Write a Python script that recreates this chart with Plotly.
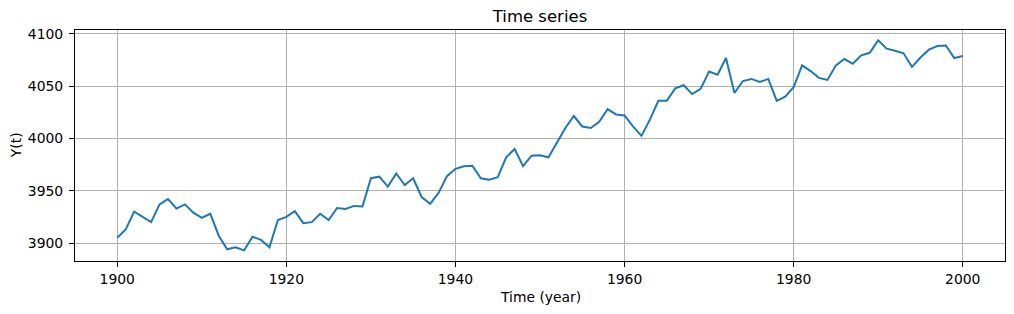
import plotly.graph_objects as go

years = list(range(1900, 2001))
values = [
    3905, 3913, 3930, 3925, 3920, 3937, 3942, 3933, 3937, 3929,
    3924, 3928, 3907, 3894, 3896, 3893, 3906, 3903, 3896, 3922,
    3925, 3930.5, 3919, 3920, 3928, 3922, 3933.5, 3932.5, 3935.5, 3935,
    3962, 3963.5, 3954, 3966.5, 3955.5, 3962, 3944, 3937.5, 3948, 3964,
    3971, 3973.5, 3974, 3962, 3960.5, 3963, 3982, 3990, 3973.5, 3983.5,
    3984, 3982, 3995.5, 4010, 4021.5, 4011.5, 4010, 4016, 4028, 4023,
    4022, 4011.5, 4002.5, 4018, 4036, 4036, 4048, 4051, 4042.5, 4047.5,
    4064, 4061, 4077, 4043.5, 4055, 4057, 4054, 4057, 4036, 4040,
    4049, 4070, 4064.5, 4058, 4056, 4070, 4076, 4071.5, 4079.5, 4082,
    4094, 4086, 4084, 4081.5, 4068.5, 4077.5, 4085, 4088.5, 4089, 4077,
    4079,
]
x_ticks = [1900, 1920, 1940, 1960, 1980, 2000]
y_ticks = [3900, 3950, 4000, 4050, 4100]

font_family = "DejaVu Sans"
fs = 13.9

fig = go.Figure()
fig.add_trace(go.Scatter(
    x=years, y=values, mode="lines",
    line=dict(color="#1f77b4", width=2),
    showlegend=False,
))

axis_common = dict(
    showline=True, linecolor="black", linewidth=1, mirror=True,
    ticks="outside", ticklen=5, tickwidth=1, tickcolor="black",
    showgrid=True, gridcolor="#b0b0b0", gridwidth=1,
    zeroline=False,
    tickfont=dict(family=font_family, size=fs, color="black"),
)

fig.update_xaxes(range=[1895, 2005], tickvals=x_ticks, ticklabelstandoff=0, **axis_common)
fig.update_yaxes(range=[3882.8, 4103.8], tickvals=y_ticks, ticklabelstandoff=3, **axis_common)

fig.update_layout(
    width=1014, height=314,
    margin=dict(l=75, r=9, t=30, b=53),
    paper_bgcolor="white", plot_bgcolor="white",
    font=dict(family=font_family, size=fs, color="black"),
    title=dict(text="Time series", x=0.5, xref="paper", xanchor="center",
               y=1 - 16 / 314, yref="container", yanchor="middle",
               font=dict(family=font_family, size=16.5, color="black")),
    annotations=[
        dict(text="Time (year)", xref="paper", yref="paper", x=0.5,
             y=-(297 - 261.3) / 231, xanchor="center", yanchor="middle",
             showarrow=False, font=dict(family=font_family, size=fs)),
        dict(text="Y(t)", xref="paper", yref="paper",
             x=-(75.3 - 16) / 930, y=0.5, xanchor="center", yanchor="middle",
             textangle=-90, showarrow=False, font=dict(family=font_family, size=fs)),
    ],
)

fig.write_html("out.html")
